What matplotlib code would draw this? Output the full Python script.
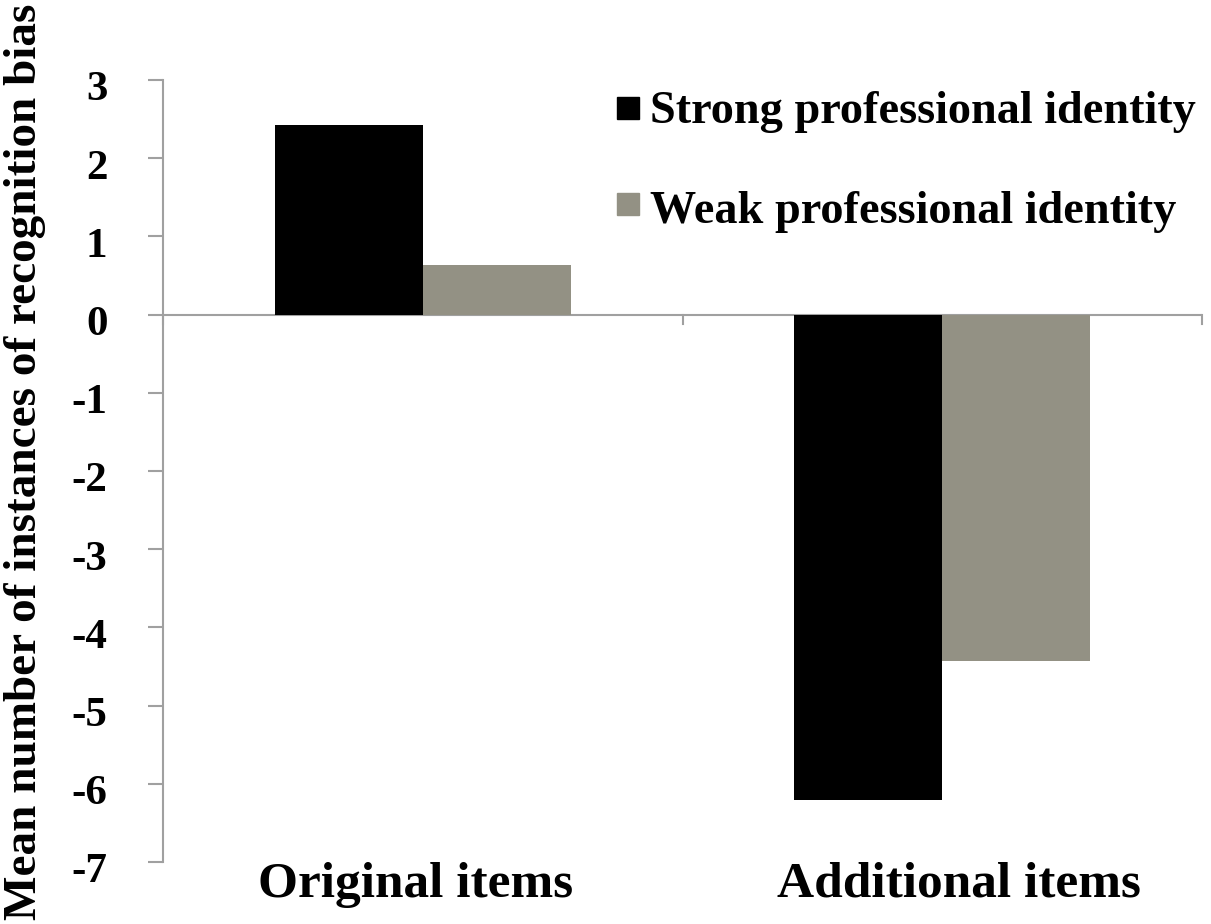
import matplotlib
matplotlib.use("Agg")
import matplotlib.pyplot as plt
from matplotlib.patches import Rectangle
from matplotlib.transforms import ScaledTranslation
import numpy as np

categories = ["Original items", "Additional items"]
series_names = ["Strong professional identity", "Weak professional identity"]
strong = [2.43, -6.21]
weak = [0.63, -4.43]
yticks = [3, 2, 1, 0, -1, -2, -3, -4, -5, -6, -7]

colors = ["#000000", "#939184"]
axis_color = "#a0a0a0"
font = "Liberation Serif"

fig = plt.figure(figsize=(12.11, 9.24), dpi=100)
ax = fig.add_axes([163/1211, 1-862/924, (1202-163)/1211, (862-80)/924])

x = np.arange(len(categories))
w = 0.285
ax.bar(x - w/2, strong, width=w, color=colors[0], zorder=2)
ax.bar(x + w/2, weak, width=w, color=colors[1], zorder=2)

ax.set_xlim(-0.5, len(categories) - 0.5)
ax.set_ylim(-7, 3)
ax.set_yticks(yticks)
ax.set_yticklabels([str(t) for t in yticks], fontfamily=font, fontweight="bold", fontsize=31)
ax.tick_params(axis="y", direction="out", length=11, width=1.5, color=axis_color, pad=29)
shift = ScaledTranslation(0, -6/100, fig.dpi_scale_trans)
for lab in ax.get_yticklabels():
    lab.set_transform(lab.get_transform() + shift)
ax.set_xticks([])
for s in ["top", "right", "bottom"]:
    ax.spines[s].set_visible(False)
ax.spines["left"].set_color(axis_color)
ax.spines["left"].set_linewidth(1.5)

# zero line with tick marks
ax.axhline(0, color=axis_color, lw=1.5, zorder=1)
for xb in np.arange(-0.5, len(categories), 1.0):
    ax.plot([xb, xb], [0, -0.12], color=axis_color, lw=1.5, clip_on=False, zorder=1)

# category labels at bottom
label_offsets = [-0.013, 0.033]
for xi, c, off in zip(x, categories, label_offsets):
    ax.text(xi + off, -7.0, c, ha="center", va="top", fontfamily=font, fontweight="bold",
            fontsize=37, transform=ax.transData)

fig.text(25/1211, 1-462/924, "Mean number of instances of recognition bias", rotation=90,
         ha="center", va="center", fontfamily=font, fontweight="bold", fontsize=34)

# legend
for i, (name, col) in enumerate(zip(series_names, colors)):
    ysq = 1 - (108 + i*96)/924
    fig.patches.append(Rectangle((617/1211, ysq - 11/924), 22/1211, 22/924,
                                 transform=fig.transFigure, color=col))
    fig.text(650/1211, 1 - (123 + i*100)/924, name, ha="left", va="baseline", fontfamily=font,
             fontweight="bold", fontsize=33.3)

fig.savefig("out.png", dpi=100)
